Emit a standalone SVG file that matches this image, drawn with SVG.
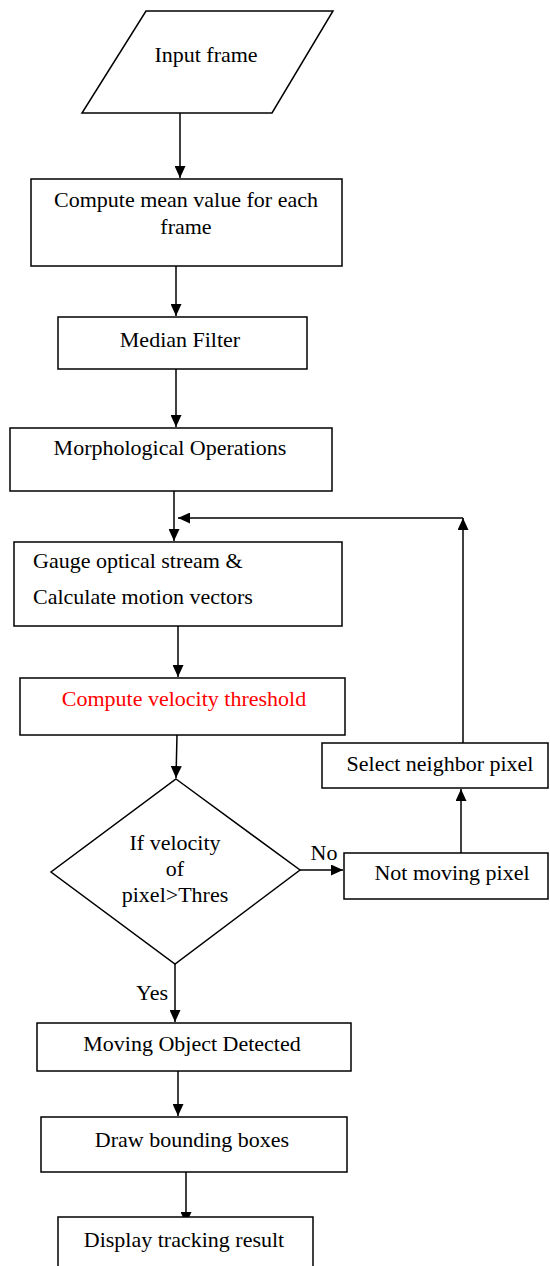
<svg xmlns="http://www.w3.org/2000/svg" width="550" height="1266" viewBox="0 0 550 1266">
<style>
.shape{fill:#fff;stroke:#000;stroke-width:1.5}
.lbl{font-family:"Liberation Serif","Times New Roman",serif;font-size:22px;fill:#000;text-anchor:middle}
.left{text-anchor:start}
.red{fill:#ff0000}
.conn{fill:none;stroke:#000;stroke-width:1.5}
</style>
<defs>
<marker id="arr" markerUnits="userSpaceOnUse" markerWidth="12" markerHeight="11" refX="12" refY="5.5" orient="auto">
<path d="M0,0 L12,5.5 L0,11 Z" fill="#000"/>
</marker>
</defs>
<rect width="550" height="1266" fill="#fff"/>
<g id="connectors">
<path class="conn" d="M180,113 L180,178" marker-end="url(#arr)"/>
<path class="conn" d="M176,266 L176,316" marker-end="url(#arr)"/>
<path class="conn" d="M176,369 L176,427" marker-end="url(#arr)"/>
<path class="conn" d="M174,491 L174,541" marker-end="url(#arr)"/>
<path class="conn" d="M463,743 L463,518" marker-end="url(#arr)"/>
<path class="conn" d="M463,518 L178,518" marker-end="url(#arr)"/>
<path class="conn" d="M178,626 L178,677" marker-end="url(#arr)"/>
<path class="conn" d="M177,735 L176,778" marker-end="url(#arr)"/>
<path class="conn" d="M300,870 L343,870" marker-end="url(#arr)"/>
<path class="conn" d="M461,853 L461,789" marker-end="url(#arr)"/>
<path class="conn" d="M175,964 L175,1022" marker-end="url(#arr)"/>
<path class="conn" d="M178,1066 L178,1116" marker-end="url(#arr)"/>
<path class="conn" d="M186,1168 L186,1224" marker-end="url(#arr)"/>
<text class="lbl" x="324" y="860">No</text>
<text class="lbl" x="152" y="1000">Yes</text>
</g>
<g id="input">
<polygon class="shape" points="146,11 333,11 272,113 82,113"/>
<text class="lbl" x="206" y="62">Input frame</text>
</g>
<g id="mean">
<rect class="shape" x="31" y="179" width="311" height="87"/>
<text class="lbl" x="186" y="207">Compute mean value for each</text>
<text class="lbl" x="186" y="234">frame</text>
</g>
<g id="median">
<rect class="shape" x="58" y="317" width="249" height="52"/>
<text class="lbl" x="180" y="347">Median Filter</text>
</g>
<g id="morph">
<rect class="shape" x="10" y="428" width="322" height="63"/>
<text class="lbl" x="170" y="455">Morphological Operations</text>
</g>
<g id="gauge">
<rect class="shape" x="14" y="542" width="328" height="84"/>
<text class="lbl left" x="33" y="568">Gauge optical stream &amp;</text>
<text class="lbl left" x="33" y="604">Calculate motion vectors</text>
</g>
<g id="velocity">
<rect class="shape" x="20" y="678" width="325" height="57"/>
<text class="lbl red" x="184" y="706">Compute velocity threshold</text>
</g>
<g id="decision">
<polygon class="shape" points="176,779 300,870 175,964 51,872"/>
<text class="lbl" x="175" y="850">If velocity</text>
<text class="lbl" x="175" y="876">of</text>
<text class="lbl" x="175" y="902">pixel&gt;Thres</text>
</g>
<g id="notmoving">
<rect class="shape" x="344" y="853" width="204" height="46"/>
<text class="lbl" x="452" y="880">Not moving pixel</text>
</g>
<g id="neighbor">
<rect class="shape" x="322" y="743" width="226" height="45"/>
<text class="lbl" x="440" y="771">Select neighbor pixel</text>
</g>
<g id="moving">
<rect class="shape" x="37" y="1023" width="314" height="48"/>
<text class="lbl" x="192" y="1051">Moving Object Detected</text>
</g>
<g id="bbox">
<rect class="shape" x="41" y="1117" width="306" height="55"/>
<text class="lbl" x="192" y="1147">Draw bounding boxes</text>
</g>
<g id="display">
<rect class="shape" x="58" y="1217" width="255" height="60"/>
<text class="lbl" x="184" y="1247">Display tracking result</text>
</g>
</svg>
